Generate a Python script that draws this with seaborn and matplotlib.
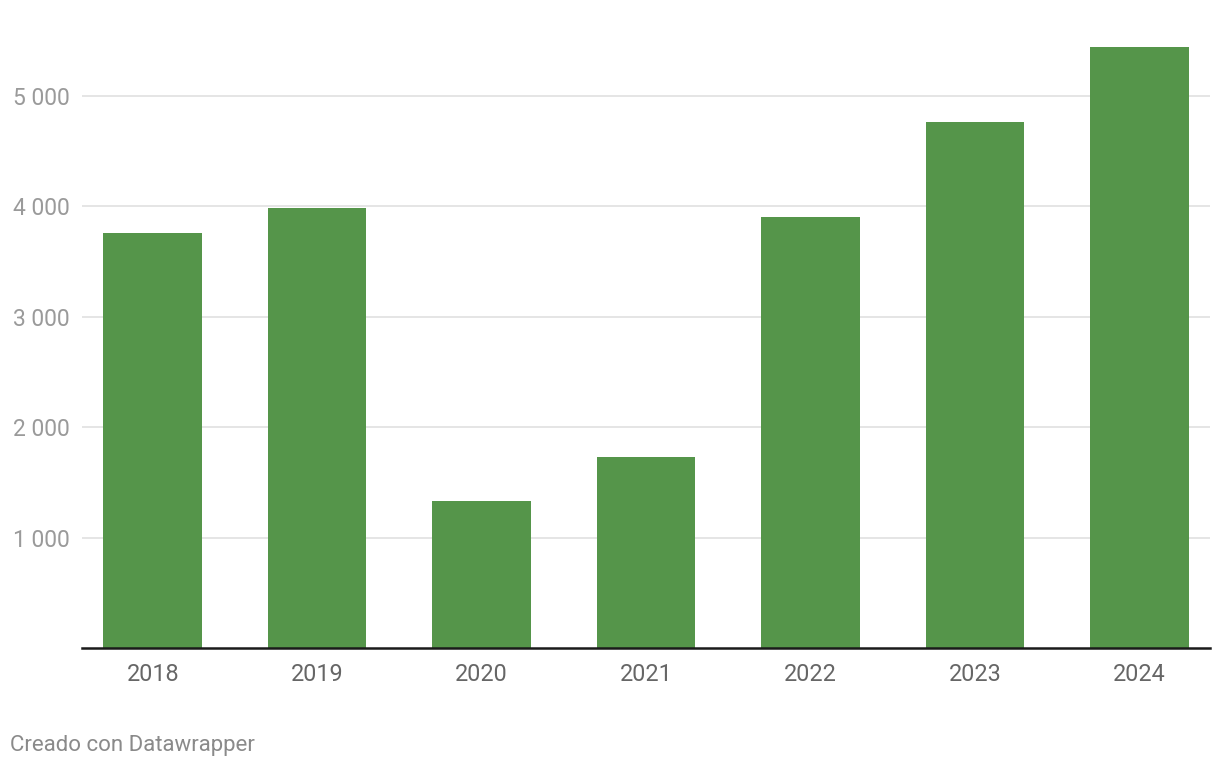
import matplotlib
matplotlib.use("Agg")
import matplotlib.pyplot as plt
import seaborn as sns
import pandas as pd

# values
years = ["2018", "2019", "2020", "2021", "2022", "2023", "2024"]
values = [3760, 3980, 1335, 1725, 3905, 4760, 5440]
y_ticks = [1000, 2000, 3000, 4000, 5000]
y_tick_labels = ["1 000", "2 000", "3 000", "4 000", "5 000"]

df = pd.DataFrame({"year": years, "value": values})

sns.set_style("white")
plt.rcParams["font.family"] = ["Roboto", "DejaVu Sans"]

fig = plt.figure(figsize=(12.2, 7.7), dpi=100)
ax = fig.add_axes([0.0672, 0.1584, 0.9246, 0.789])

sns.barplot(data=df, x="year", y="value", color="#55954a", saturation=1,
            width=0.6, ax=ax, zorder=3, linewidth=0)

ax.set_xlim(-0.43, 6.43)
ax.set_ylim(0, 5500)
ax.set_yticks(y_ticks)
ax.set_yticklabels(y_tick_labels)
ax.grid(axis="y", color="#e3e3e3", linewidth=1.3, zorder=0)
ax.set_axisbelow(True)

for s in ["top", "right", "left"]:
    ax.spines[s].set_visible(False)
ax.spines["bottom"].set_color("#1a1a1a")
ax.spines["bottom"].set_linewidth(1.8)
ax.spines["bottom"].set_zorder(4)

ax.tick_params(axis="y", length=0, pad=9, labelsize=16.5, labelcolor="#9a9a9a")
ax.tick_params(axis="x", length=0, pad=11, labelsize=16.8, labelcolor="#666666")
ax.set_xlabel("")
ax.set_ylabel("")

fig.text(10 / 1220, 1 - 746 / 770, "Creado con Datawrapper", fontsize=16,
         color="#8a8a8a", ha="left", va="center")

fig.savefig("out.png", dpi=100)
